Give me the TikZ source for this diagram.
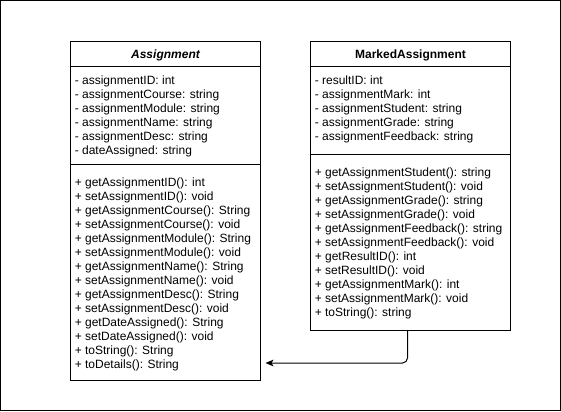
\documentclass[tikz,border=0pt]{standalone}
\usepackage{fontspec}
\setmainfont{Liberation Sans}
\usetikzlibrary{arrows.meta}
\begin{document}
\begin{tikzpicture}[x=0.75pt,y=-0.75pt,
  comp/.style={draw=black, line width=0.75pt, fill=white, anchor=north west, inner sep=0pt, outer sep=0pt},
  txt/.style={anchor=base west, inner sep=0pt, font=\fontsize{9pt}{10.5pt}\selectfont},
  ttl/.style={anchor=base, inner sep=0pt, font=\fontsize{9pt}{10.5pt}\selectfont\bfseries},
  conn/.style={draw=black, line width=0.75pt, rounded corners=3.75pt, -{Stealth[length=6pt,width=5pt,inset=1.5pt]}}
]
\useasboundingbox (0,0) rectangle (561,411);
\draw[line width=0.75pt] (0.5,0.5) rectangle (560.5,410);

% Assignment
\node[comp, minimum width=142.5pt, minimum height=18.75pt] (A-title) at (70.5,41.5) {};
\node[comp, minimum width=142.5pt, minimum height=73.5pt] (A-attr) at (70.5,66.5) {};
\node[comp, minimum width=142.5pt, minimum height=162pt] (A-meth) at (70.5,164.5) {};
\node[ttl] (A-name) at (165.5,58) {\itshape Assignment};
\foreach [count=\i] \t in {- assignmentID: int, - assignmentCourse: string, - assignmentModule: string, - assignmentName: string, - assignmentDesc: string, - dateAssigned: string}
  \node[txt] (A-a\i) at (74.5,{84.5+14*(\i-1)}) {\t};
\foreach [count=\i] \t in {+ getAssignmentID(): int, + setAssignmentID(): void, + getAssignmentCourse(): String, + setAssignmentCourse(): void, + getAssignmentModule(): String, + setAssignmentModule(): void, + getAssignmentName(): String, + setAssignmentName(): void, + getAssignmentDesc(): String, + setAssignmentDesc(): void, + getDateAssigned(): String, + setDateAssigned(): void, + toString(): String, + toDetails(): String}
  \node[txt] (A-m\i) at (74.5,{186+14*(\i-1)}) {\t};

% MarkedAssignment
\node[comp, minimum width=150pt, minimum height=18.75pt] (M-title) at (310.5,41.5) {};
\node[comp, minimum width=150pt, minimum height=66pt] (M-attr) at (310.5,66.5) {};
\node[comp, minimum width=150pt, minimum height=132pt] (M-meth) at (310.5,154.5) {};
\node[ttl] (M-name) at (410.5,58) {MarkedAssignment};
\foreach [count=\i] \t in {- resultID: int, - assignmentMark: int, - assignmentStudent: string, - assignmentGrade: string, - assignmentFeedback: string}
  \node[txt] (M-a\i) at (314.5,{84.5+14*(\i-1)}) {\t};
\foreach [count=\i] \t in {+ getAssignmentStudent(): string, + setAssignmentStudent(): void, + getAssignmentGrade(): string, + setAssignmentGrade(): void, + getAssignmentFeedback(): string, + setAssignmentFeedback(): void, + getResultID(): int, + setResultID(): void, + getAssignmentMark(): int, + setAssignmentMark(): void, + toString(): string}
  \node[txt] (M-m\i) at (314.5,{176+14*(\i-1)}) {\t};

% inheritance connector
\coordinate (tip) at (265.5,363);
\draw[conn] ([xshift=-2.25pt]M-meth.south) |- (tip);
\end{tikzpicture}
\end{document}
